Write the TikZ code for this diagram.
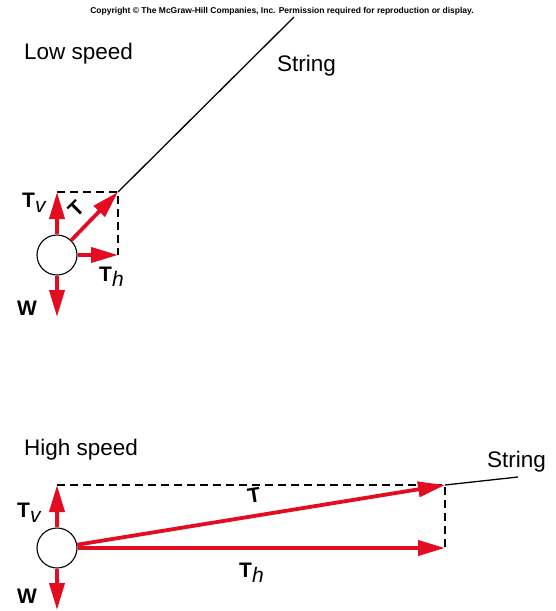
\documentclass[tikz,border=0pt]{standalone}
\usepackage{fontspec}
\setmainfont{Liberation Sans}
\usetikzlibrary{arrows.meta}
\definecolor{forcered}{RGB}{228,12,32}

\begin{document}
\begin{tikzpicture}[x=1pt, y=-1pt,
  force/.style={draw=forcered, line width=3.8pt, -{Triangle[length=27pt,width=15pt]}},
  comp/.style={draw, line width=1.2pt, dash pattern=on 8pt off 5pt},
  stringline/.style={draw, line width=1.3pt},
  ball/.style={circle, draw, line width=1.1pt, fill=white, minimum size=40pt, inner sep=0pt},
  vec/.style={font=\fontsize{21}{21}\selectfont\bfseries, inner sep=0pt, anchor=base west},
  txt/.style={font=\fontsize{22.5}{22.5}\selectfont, inner sep=0pt, anchor=base west}]
  \useasboundingbox (0,0) rectangle (556,611);
  \node[font=\fontsize{8.5}{9}\selectfont\bfseries, anchor=base, inner sep=0pt] (copy) at (282,13)
    {Copyright \textcopyright{} The McGraw-Hill Companies, Inc. Permission required for reproduction or display.};
  % low speed: string steep, T mostly vertical
  \node[txt] (lowtitle) at (24,59) {Low speed};
  \node[txt] (lowstring) at (277,71) {String};
  \node[ball] (lc) at (57,255) {};
  \coordinate (ltv) at (57,192);
  \coordinate (lcorner) at (118,192);
  \coordinate (lth) at (118,255);
  \coordinate (lw) at (57,317);
  \coordinate (ltop) at (294,17);
  \draw[stringline] (lcorner) -- (ltop);
  \draw[comp] (ltv) -- (lcorner) -- (lth);
  \draw[force] (lc) -- (ltv);
  \draw[force] (lc) -- (lcorner);
  \draw[force] (lc) -- (lth);
  \draw[force] (lc) -- (lw);
  \node[vec] (ltvlab) at (22,207) {T\raisebox{-5pt}{\mdseries\itshape v}};
  \node[vec, anchor=center, rotate=45] (ltlab) at (76,209) {T};
  \node[vec] (lthlab) at (99,281) {T\raisebox{-5pt}{\mdseries\itshape h}};
  \node[vec] (lwlab) at (17,315) {W};
  % high speed: string nearly horizontal, T mostly horizontal
  \node[txt] (hightitle) at (24,455) {High speed};
  \node[txt] (highstring) at (487,467) {String};
  \node[ball] (hc) at (57,548) {};
  \coordinate (htv) at (57,485);
  \coordinate (hcorner) at (445,485);
  \coordinate (hth) at (445,548);
  \coordinate (hw) at (57,610);
  \coordinate (htop) at (518,477);
  \draw[stringline] (hcorner) -- (htop);
  \draw[comp] (htv) -- (hcorner) -- (hth);
  \draw[force] (hc) -- (htv);
  \draw[force] (hc) -- (hcorner);
  \draw[force] (hc) -- (hth);
  \draw[force] (hc) -- (hw);
  \node[vec] (htvlab) at (17,517) {T\raisebox{-5pt}{\mdseries\itshape v}};
  \node[vec, anchor=center, rotate=9] (htlab) at (254,495) {T};
  \node[vec] (hthlab) at (239,577) {T\raisebox{-5pt}{\mdseries\itshape h}};
  \node[vec] (hwlab) at (17,603) {W};
\end{tikzpicture}
\end{document}
